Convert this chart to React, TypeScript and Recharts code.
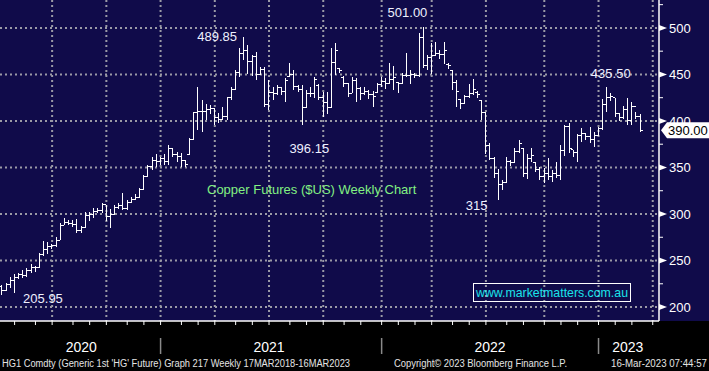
import React from 'react';
import {
  ComposedChart,
  Bar,
  XAxis,
  YAxis,
  CartesianGrid,
  ReferenceDot,
  ReferenceLine,
} from 'recharts';

// ---- data (weekly OHLC, HG1 copper, cents/lb) ----
const START_DATE = '2020-04-10';
const PADDING_WEEKS = 4;

const OPEN = [
  222, 218, 224, 229, 232, 235, 234, 239, 243, 242, 256, 262, 265, 266, 272, 288, 291, 290, 289, 282,
  285, 298, 299, 303, 304, 310, 297, 300, 307, 309, 306, 312, 316, 318, 326, 340, 351, 357, 356, 360,
  356, 370, 364, 362, 357, 364, 380, 409, 410, 410, 412, 413, 404, 402, 405, 425, 434, 452, 472, 476,
  464, 469, 450, 455, 418, 431, 429, 436, 432, 448, 450, 437, 434, 415, 430, 430, 438, 425, 420, 415,
  463, 456, 447, 440, 430, 444, 435, 430, 432, 428, 431, 439, 442, 440, 445, 441, 440, 449, 449, 450,
  449, 490, 460, 468, 470, 473, 471, 461, 454, 441, 423, 419, 426, 430, 431, 422, 409, 374, 360, 344,
  332, 334, 356, 355, 367, 370, 343, 360, 355, 348, 340, 344, 340, 344, 341, 368, 394, 369, 366, 384,
  386, 383, 380, 384, 392, 418, 425, 425, 408, 404, 412, 400, 416, 405,
];
const HIGH = [
  224, 226, 232, 236, 237, 240, 242, 246, 244, 258, 271, 270, 268, 275, 290, 296, 294, 294, 295, 287,
  302, 302, 306, 306, 312, 310, 305, 310, 312, 323, 315, 318, 322, 328, 342, 353, 361, 364, 361, 364,
  374, 371, 367, 366, 358, 382, 410, 437, 423, 418, 417, 414, 409, 415, 426, 436, 455, 478, 490, 482,
  471, 474, 458, 458, 444, 436, 439, 437, 446, 462, 455, 439, 439, 433, 436, 447, 440, 431, 431, 478,
  484, 457, 448, 441, 447, 446, 436, 437, 433, 432, 441, 447, 446, 462, 459, 442, 452, 473, 455, 452,
  494, 501, 471, 484, 485, 476, 485, 462, 455, 444, 424, 428, 440, 445, 432, 423, 410, 376, 361, 348,
  337, 361, 358, 371, 379, 371, 365, 371, 356, 351, 349, 360, 347, 356, 374, 396, 398, 369, 386, 392,
  387, 393, 388, 393, 424, 436, 430, 425, 409, 416, 425, 420, 410, 408,
];
const LOW = [
  213, 217, 221, 215, 230, 231, 232, 237, 238, 242, 255, 257, 262, 264, 272, 288, 288, 286, 280, 280,
  285, 292, 296, 301, 301, 293, 285, 299, 305, 304, 304, 312, 315, 318, 326, 340, 347, 351, 353, 353,
  353, 361, 356, 351, 351, 363, 380, 390, 388, 401, 407, 396, 398, 401, 401, 422, 433, 447, 466, 450,
  448, 444, 450, 415, 412, 423, 428, 428, 420, 447, 433, 431, 396, 414, 426, 425, 422, 404, 408, 414,
  449, 452, 437, 426, 430, 420, 423, 428, 424, 415, 430, 437, 434, 440, 433, 430, 440, 447, 440, 446,
  447, 457, 455, 450, 470, 467, 461, 456, 433, 415, 413, 418, 425, 428, 425, 401, 365, 358, 339, 315,
  326, 334, 352, 355, 366, 340, 338, 356, 345, 337, 333, 337, 334, 339, 337, 362, 366, 361, 356, 377,
  380, 376, 372, 384, 390, 410, 421, 404, 400, 402, 396, 396, 402, 388,
];
const CLOSE = [
  218, 224, 229, 232, 235, 234, 239, 243, 242, 256, 262, 265, 266, 272, 288, 291, 290, 289, 282, 285,
  298, 299, 303, 304, 310, 297, 300, 307, 309, 306, 312, 316, 318, 326, 340, 351, 357, 356, 360, 356,
  370, 364, 362, 357, 353, 380, 409, 410, 410, 412, 413, 404, 402, 405, 425, 434, 452, 472, 476, 464,
  469, 450, 455, 418, 431, 429, 436, 432, 443, 450, 437, 434, 415, 430, 430, 445, 425, 420, 415, 463,
  476, 454, 440, 430, 444, 435, 430, 432, 428, 426, 439, 442, 440, 445, 447, 440, 449, 449, 450, 449,
  490, 460, 468, 470, 473, 471, 476, 460, 441, 432, 419, 426, 430, 434, 428, 409, 374, 360, 344, 332,
  334, 356, 355, 367, 376, 343, 360, 363, 348, 340, 344, 340, 344, 341, 368, 394, 370, 366, 384, 386,
  383, 380, 384, 392, 418, 425, 426, 408, 404, 412, 400, 416, 405, 390,
];

const Y_TICKS = [200, 225, 250, 275, 300, 325, 350, 375, 400, 425, 450, 475, 500, 525];
const GRID_Y = [200, 250, 300, 350, 400, 450, 500];
const Y_DOMAIN = [185, 530];
const LAST_PRICE = 390.0;

const YEAR_LABELS = [
  { d: '2020-08-21', label: '2020' },
  { d: '2021-07-02', label: '2021' },
  { d: '2022-07-08', label: '2022' },
  { d: '2023-02-24', label: '2023' },
];

const ANNOTATIONS = [
  { i: 58, v: 489.85, text: '489.85', dx: -7, dy: 4, anchor: 'end' },
  { i: 101, v: 501.0, text: '501.00', dx: 4, dy: -10, anchor: 'end' },
  { i: 72, v: 396.15, text: '396.15', dx: -13, dy: 28, anchor: 'start' },
  { i: 145, v: 435.5, text: '435.50', dx: -16, dy: -10, anchor: 'start' },
  { i: 119, v: 315, text: '315', dx: -11, dy: 10, anchor: 'end' },
  { i: 0, v: 205.95, text: '205.95', dx: 21, dy: 1, anchor: 'start' },
];

const TITLE = 'Copper Futures ($US) Weekly Chart';
const WEBSITE = 'www.marketmatters.com.au';
const FOOTER_LEFT = "HG1 Comdty (Generic 1st 'HG' Future) Graph 217  Weekly 17MAR2018-16MAR2023";
const FOOTER_MID = 'Copyright\u00A9 2023 Bloomberg Finance L.P.';
const FOOTER_RIGHT = '16-Mar-2023 07:44:57';

// ---- derived categories ----
const N = OPEN.length + PADDING_WEEKS;
const T0 = Date.parse(START_DATE + 'T00:00:00Z');
const DATES = Array.from({ length: N }, (_, k) =>
  new Date(T0 + k * 7 * 86400000).toISOString().slice(0, 10)
);
const DATA = DATES.map((d, k) =>
  k < OPEN.length ? { d, o: OPEN[k], h: HIGH[k], l: LOW[k], c: CLOSE[k] } : { d }
);
const MONTH_TICKS = DATES.filter((d, k) => k > 0 && d.slice(0, 7) !== DATES[k - 1].slice(0, 7));
const QUARTER_TICKS = MONTH_TICKS.filter((d) => ['01', '04', '07', '10'].includes(d.slice(5, 7)));
const YEAR_STARTS = new Set(MONTH_TICKS.filter((d) => d.slice(5, 7) === '01'));
const YEAR_LABEL_MAP: Record<string, string> = Object.fromEntries(YEAR_LABELS.map((y) => [y.d, y.label]));

// ---- styles ----
const NAVY = '#100b4a';
const FONT = '"Liberation Sans", Arial, sans-serif';
const GRID = '#9a9aa6';

const OhlcShape = (props: any) => {
  const { x, y, width, height, payload } = props;
  if (!payload || payload.h == null || x == null) return <g />;
  const cx = x + width / 2;
  const yHigh = height >= 0 ? y : y + height;
  const yLow = height >= 0 ? y + height : y;
  const span = payload.h - payload.l;
  const k = span > 0 ? (yLow - yHigh) / span : 0;
  const yO = yHigh + (payload.h - payload.o) * k;
  const yC = yHigh + (payload.h - payload.c) * k;
  return (
    <g stroke="#ffffff" strokeWidth={1} shapeRendering="crispEdges">
      <line x1={cx} x2={cx} y1={yHigh} y2={yLow} />
      <line x1={cx - 2.5} x2={cx} y1={yO} y2={yO} />
      <line x1={cx} x2={cx + 2.5} y1={yC} y2={yC} />
    </g>
  );
};

const YTick = (props: any) => {
  const { x, y, payload } = props;
  const v = payload.value;
  if (v % 50 !== 0) {
    return <line x1={x} x2={x + 4} y1={y} y2={y} stroke="#ffffff" strokeWidth={1} />;
  }
  return (
    <g>
      <polygon points={`${x},${y - 3} ${x + 8},${y} ${x},${y + 3}`} fill="#ffffff" />
      <text x={x + 10} y={y} dy="0.36em" fill="#ffffff" fontSize={13} fontFamily={FONT}>
        {v}
      </text>
    </g>
  );
};

const MonthTick = (props: any) => {
  const { x, y, payload } = props;
  if (!YEAR_STARTS.has(payload.value)) return <g />;
  return <line x1={x} x2={x} y1={y + 13} y2={y + 29} stroke="#8a8a8a" strokeWidth={1.5} />;
};

const YearTick = (props: any) => {
  const { x, y, payload } = props;
  return (
    <text x={x} y={y + 17} textAnchor="middle" fill="#ffffff" fontSize={14} fontFamily={FONT}>
      {YEAR_LABEL_MAP[payload.value] ?? ''}
    </text>
  );
};

const makeAnnotationShape = (a: any) => (props: any) => {
  const { cx, cy } = props;
  if (cx == null || cy == null) return <g />;
  return (
    <text
      x={cx + a.dx}
      y={cy + a.dy}
      textAnchor={a.anchor}
      fill="#eef0ff"
      fontSize={13}
      fontFamily={FONT}
    >
      {a.text}
    </text>
  );
};

const TagShape = (props: any) => {
  const { x1, x2, y1 } = props;
  if (x1 == null || y1 == null) return <g />;
  const x = Math.max(x1, x2);
  const y = y1;
  return (
    <g>
      <polygon
        points={`${x + 2},${y} ${x + 8},${y - 8} ${x + 50},${y - 8} ${x + 50},${y + 8} ${x + 8},${y + 8}`}
        fill="#ffffff"
      />
      <text x={x + 9} y={y} dy="0.36em" fill="#000000" fontSize={13} fontFamily={FONT}>
        {LAST_PRICE.toFixed(2)}
      </text>
    </g>
  );
};

export default function App() {
  return (
    <div
      style={{
        position: 'absolute',
        left: 0,
        top: 0,
        width: 709,
        height: 371,
        background: '#000000',
        overflow: 'hidden',
      }}
    >
      <div style={{ position: 'absolute', left: 0, top: 0, width: 709, height: 321, background: NAVY }} />
      <div style={{ position: 'absolute', left: 0, top: 0 }}>
        <ComposedChart width={709} height={371} data={DATA} margin={{ top: 0, right: 0, bottom: 0, left: 0 }}>
          <CartesianGrid
            stroke={GRID}
            strokeWidth={2}
            strokeDasharray="2 3"
            horizontalValues={GRID_Y}
            verticalValues={QUARTER_TICKS}
          />
          <XAxis
            dataKey="d"
            ticks={MONTH_TICKS}
            interval={0}
            height={14}
            tickSize={4}
            tickMargin={0}
            axisLine={{ stroke: '#ffffff', strokeWidth: 1.5 }}
            tickLine={{ stroke: '#ffffff' }}
            tick={MonthTick}
          />
          <XAxis
            xAxisId="yr"
            dataKey="d"
            ticks={YEAR_LABELS.map((y) => y.d)}
            interval={0}
            height={36}
            tickSize={0}
            tickMargin={0}
            axisLine={false}
            tickLine={false}
            tick={YearTick}
          />
          <YAxis
            orientation="right"
            width={50}
            domain={Y_DOMAIN}
            allowDataOverflow
            ticks={Y_TICKS}
            interval={0}
            tickSize={0}
            tickMargin={0}
            tickLine={false}
            axisLine={{ stroke: '#ffffff', strokeWidth: 1.5 }}
            tick={YTick}
          />
          <Bar
            dataKey={(e: any) => (e.h == null ? null : [e.l, e.h])}
            shape={OhlcShape}
            isAnimationActive={false}
          />
          {ANNOTATIONS.map((a) => (
            <ReferenceDot
              key={a.text}
              x={DATES[a.i]}
              y={a.v}
              r={0}
              shape={makeAnnotationShape(a)}
            />
          ))}
          <ReferenceLine y={LAST_PRICE} stroke="none" shape={TagShape} />
        </ComposedChart>
      </div>
      <svg
        width={709}
        height={371}
        style={{ position: 'absolute', left: 0, top: 0, pointerEvents: 'none' }}
      >
        <text x={207} y={194} fill="#82f082" fontSize={13} fontFamily={FONT}>
          {TITLE}
        </text>
        <rect x={473.5} y={283.5} width={157} height={18} fill="none" stroke="#ffffff" strokeWidth={1} />
        <text x={476} y={297} fill="#1ae3ea" fontSize={13} fontFamily={FONT} textLength={152} lengthAdjust="spacingAndGlyphs">
          {WEBSITE}
        </text>
        <text x={2} y={367} fill="#e4e4e4" fontSize={10} fontFamily={FONT} textLength={348} lengthAdjust="spacingAndGlyphs">
          {FOOTER_LEFT}
        </text>
        <text x={394} y={367} fill="#e4e4e4" fontSize={10} fontFamily={FONT} textLength={173} lengthAdjust="spacingAndGlyphs">
          {FOOTER_MID}
        </text>
        <text x={611} y={367} fill="#e4e4e4" fontSize={10} fontFamily={FONT} textLength={96} lengthAdjust="spacingAndGlyphs">
          {FOOTER_RIGHT}
        </text>
      </svg>
    </div>
  );
}
